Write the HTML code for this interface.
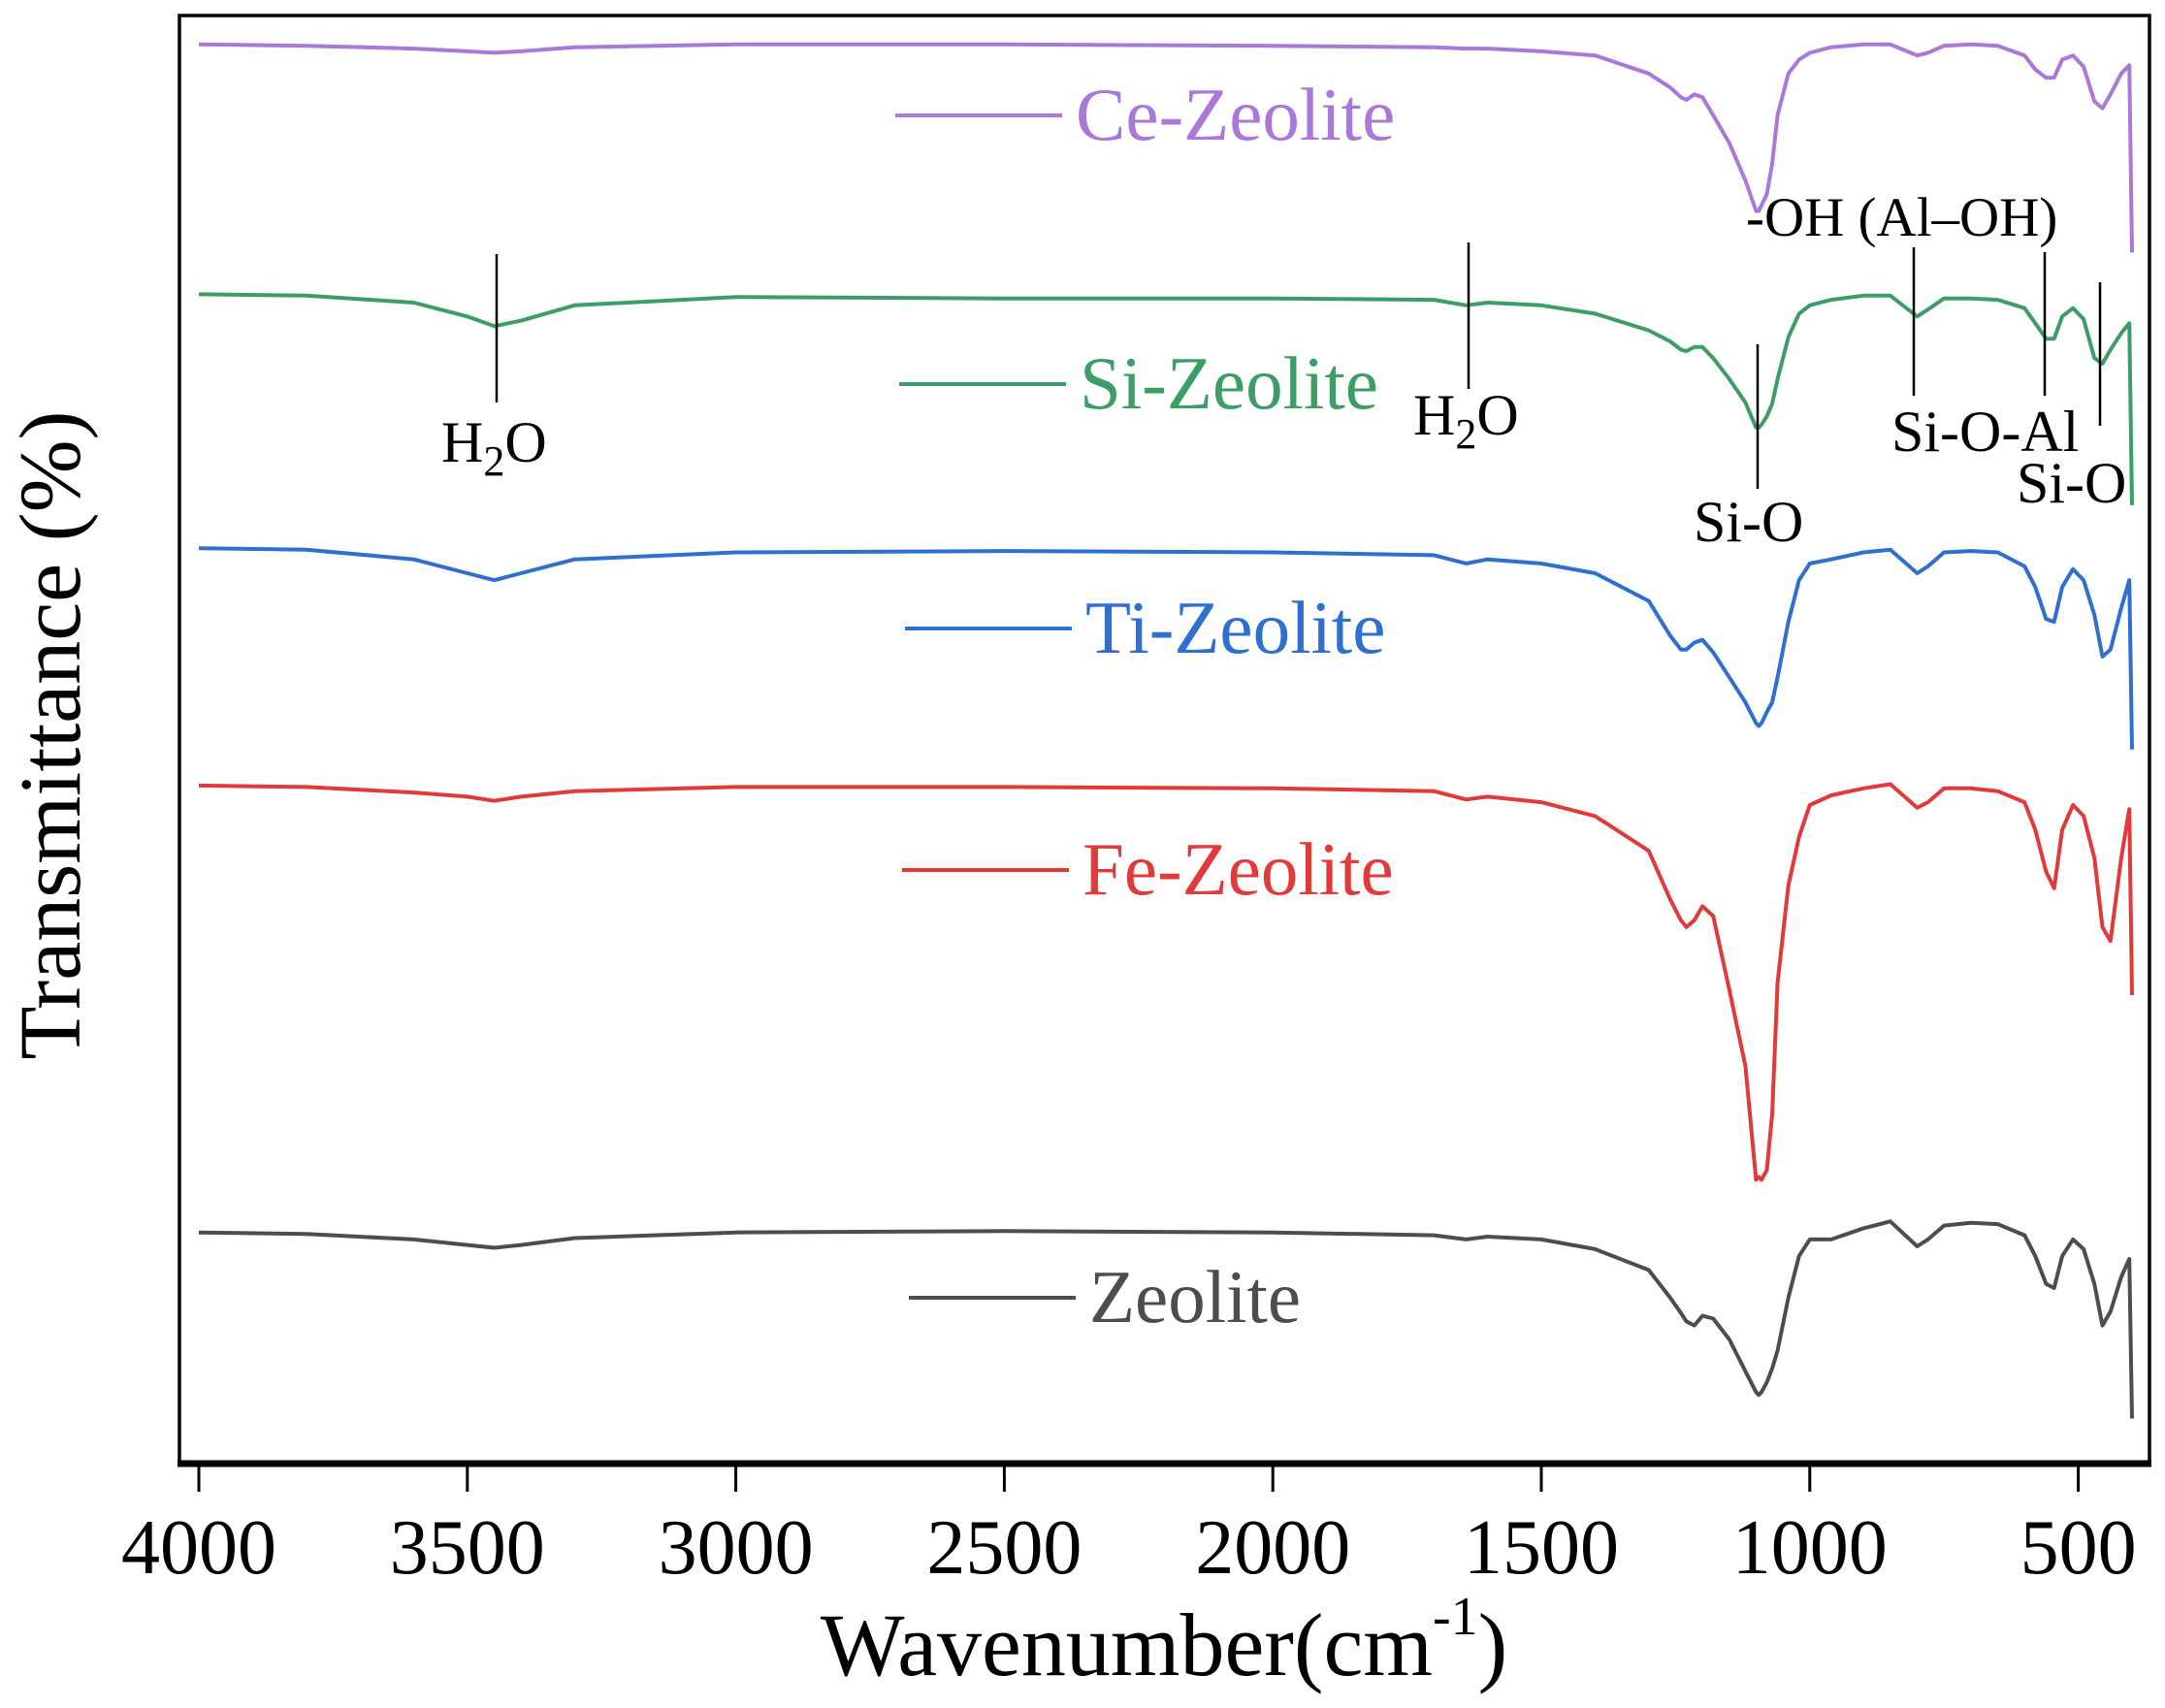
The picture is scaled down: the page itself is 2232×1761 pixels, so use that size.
<!DOCTYPE html>
<html><head><meta charset="utf-8"><style>
html,body{margin:0;padding:0;background:#fff;}
svg{display:block;font-family:"Liberation Serif",serif;}
</style></head><body>
<svg id="chart" width="2232" height="1761" viewBox="0 0 2232 1761" xmlns="http://www.w3.org/2000/svg">
<rect x="0" y="0" width="2232" height="1761" fill="#fff"/>
<g id="series"></g>
<g id="legend"></g>
<g id="annots" stroke="#000" stroke-width="2.5" font-size="60"></g>
<rect x="185" y="16" width="2031" height="1494" fill="none" stroke="#000" stroke-width="3.5"/>
<line x1="183" y1="1509" x2="2218" y2="1509" stroke="#000" stroke-width="7"/>
<g id="xaxis"></g>
<text x="1200" y="1727" font-size="92" text-anchor="middle">Wavenumber(cm<tspan font-size="56" dy="-42">-1</tspan><tspan dy="42">)</tspan></text>
<text transform="translate(82,758) rotate(-90)" font-size="90" text-anchor="middle">Transmittance (%)</text>
<g font-size="60">
<text x="455" y="476">H<tspan font-size="44" dy="14">2</tspan><tspan dy="-14">O</tspan></text>
<text x="1457" y="448">H<tspan font-size="44" dy="14">2</tspan><tspan dy="-14">O</tspan></text>
<text x="1746" y="558">Si-O</text>
<text x="1800" y="243" font-size="57">-OH (Al–OH)</text>
<text x="1950" y="465">Si-O-Al</text>
<text x="2079" y="518">Si-O</text>
</g>
</svg>
<script>
const wavenumbers=[4000,3800,3600,3500,3450,3400,3300,3000,2500,2000,1700,1640,1600,1500,1400,1300,1260,1240,1230,1215,1200,1180,1150,1120,1100,1095,1090,1080,1070,1060,1040,1020,1000,960,900,850,800,780,750,700,650,600,580,560,545,530,510,490,470,455,440,420,405,400];
const zeoliteT=[170,169,165,161,159,161,166,170,171,170,168,165,167,165,158,143,123,112,106,103,110,108,93,70,55,53,55,62,72,85,123,153,165,165,173,178,160,165,175,177,176,168,153,133,130,153,165,158,133,103,113,138,151,36];
const feT=[492,491,487,484,481,484,488,491,491,490,488,482,484,480,470,445,410,395,390,395,405,398,345,290,208,210,208,215,255,350,420,455,478,485,490,493,476,480,490,490,488,480,460,430,418,460,478,470,440,390,380,440,475,341];
const tiT=[663,662,655,645,640,645,655,660,661,660,658,652,655,652,645,625,600,590,590,595,597,588,570,552,537,535,537,545,552,570,610,640,652,655,660,662,645,650,660,661,660,650,635,612,610,635,648,640,615,585,590,620,640,518];
const siT=[846,845,840,830,823,827,838,844,843,843,842,838,840,838,832,820,812,806,805,808,808,800,785,768,750,750,752,758,767,785,815,832,838,842,845,845,830,835,843,843,842,836,825,814,814,830,836,828,800,796,806,818,825,694];
const ceT=[1026,1025,1023,1021,1020,1021,1024,1026,1026,1025,1024,1023,1023,1021,1018,1005,995,988,986,990,988,975,955,928,906,906,910,918,940,975,1005,1015,1020,1024,1026,1026,1018,1020,1025,1026,1025,1018,1008,1002,1002,1015,1018,1010,985,980,990,1005,1011,876];
const seriesNames=["Ce-Zeolite","Si-Zeolite","Ti-Zeolite","Fe-Zeolite","Zeolite"];
const xTicks=[4000,3500,3000,2500,2000,1500,1000,500];

const NS="http://www.w3.org/2000/svg";
function xScale(w){return 205+(4000-w)*0.5536;}
function yScale(v){return 1514-v*1.431;}
function mk(tag,attrs,parent){const e=document.createElementNS(NS,tag);for(const k in attrs)e.setAttribute(k,attrs[k]);parent.appendChild(e);return e;}

const seriesData=[ceT,siT,tiT,feT,zeoliteT];
const colors=["#a978d8","#3c9e66","#2f6fd0","#e2393b","#4d4d4d"];
const legendY=[119,396,648,897,1338];
const legendX=[923,927,933,930,937];
const sg=document.getElementById('series');
const lg=document.getElementById('legend');
seriesData.forEach((arr,i)=>{
  const d=arr.map((v,j)=>(j?'L':'M')+xScale(wavenumbers[j]).toFixed(1)+' '+yScale(v).toFixed(1)).join(' ');
  const p=mk('path',{d:d,fill:'none',stroke:colors[i],'stroke-width':4,'stroke-linejoin':'round'},sg);
  
  
  const l=mk('line',{x1:legendX[i],y1:legendY[i],x2:legendX[i]+172,y2:legendY[i],stroke:colors[i],'stroke-width':4},lg);
  
  
  const t=mk('text',{x:legendX[i]+186,y:legendY[i]+25,'font-size':77,fill:colors[i]},lg);
  t.textContent=seriesNames[i];
  
  
});

const xa=document.getElementById('xaxis');
xTicks.forEach(v=>{
  const x=xScale(v);
  const tk=mk('line',{x1:x,y1:1511,x2:x,y2:1538,stroke:'#000','stroke-width':3},xa);
  
  
  const t=mk('text',{x:x,y:1622,'font-size':80,'text-anchor':'middle'},xa);
  t.textContent=v;
  
  
});

const an=document.getElementById('annots');
const annLines=[[512,262,415],[1514,250,401],[1812,355,504],[1973,255,408],[2108,260,408],[2165,291,439]];
annLines.forEach((a,i)=>{
  const l=mk('line',{x1:a[0],y1:a[1],x2:a[0],y2:a[2]},an);
  
  
});
</script>
</body></html>
